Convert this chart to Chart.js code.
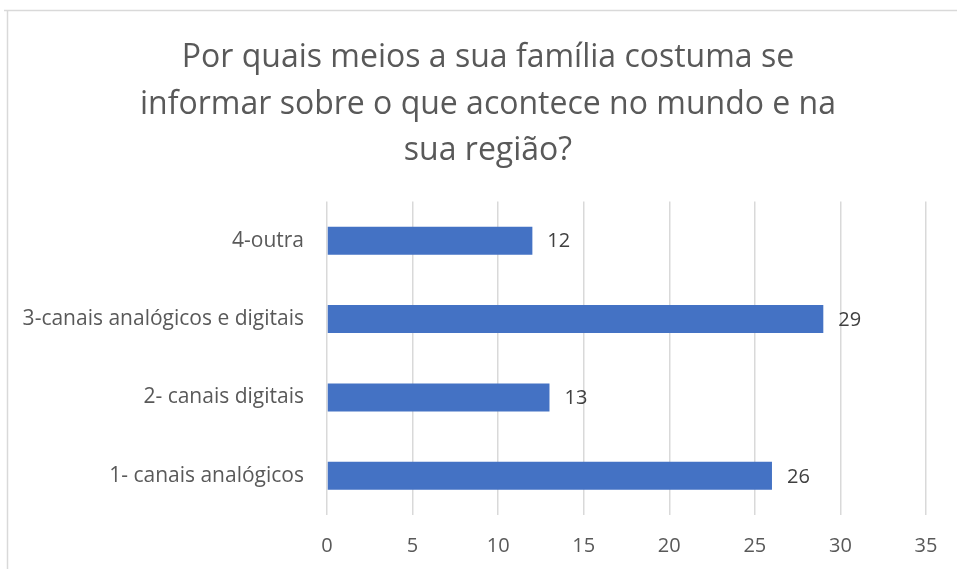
<!DOCTYPE html>
<html>
<head>
<meta charset="utf-8">
<script src="https://cdn.jsdelivr.net/npm/chart.js@4"></script>
<style>
  body { margin: 0; background: #fff; }
  #wrap { position: relative; width: 957px; height: 569px; }
</style>
</head>
<body>
<div id="wrap"><canvas id="chart" width="957" height="569"></canvas></div>
<script>
const titleLines = [
    "Por quais meios a sua família costuma se",
    "informar sobre o que acontece no mundo e na",
    "sua região?"
];
const categories = [
    "1- canais analógicos",
    "2- canais digitais",
    "3-canais analógicos e digitais",
    "4-outra"
];
const values = [26, 13, 29, 12];
const axisMin = 0;
const axisMax = 35;
const axisStep = 5;

const FONT = "'Open Sans', sans-serif";
const TEXT = "#595959";

// frame around the chart (top and left edges visible)
const framePlugin = {
    id: "frame",
    beforeDraw(chart) {
        const ctx = chart.ctx;
        ctx.save();
        ctx.fillStyle = "#fff";
        ctx.fillRect(0, 0, chart.width, chart.height);
        ctx.strokeStyle = "#d9d9d9";
        ctx.lineWidth = 1.5;
        ctx.beginPath();
        ctx.moveTo(4, 10.5);
        ctx.lineTo(chart.width, 10.5);
        ctx.moveTo(7.5, 10);
        ctx.lineTo(7.5, chart.height);
        ctx.stroke();
        ctx.restore();
    }
};

// center the title on the whole frame, not just the padded area
const titleShift = {
    id: "titleShift",
    afterLayout(chart) {
        if (chart.titleBlock) {
            chart.titleBlock.left = 19;
            chart.titleBlock.right = chart.width;
        }
    }
};

// value labels to the right of each bar
const valueLabels = {
    id: "valueLabels",
    afterDatasetsDraw(chart) {
        const ctx = chart.ctx;
        const meta = chart.getDatasetMeta(0);
        ctx.save();
        ctx.font = "20px " + FONT;
        ctx.fillStyle = "#404040";
        ctx.textAlign = "left";
        ctx.textBaseline = "middle";
        meta.data.forEach((bar, i) => {
            ctx.fillText(values[i], bar.x + 15, bar.y + 1);
        });
        ctx.restore();
    }
};

new Chart(document.getElementById("chart"), {
    type: "bar",
    data: {
        labels: categories,
        datasets: [{
            data: values,
            backgroundColor: "#4472C4",
            borderWidth: 0,
            categoryPercentage: 1,
            barPercentage: 0.357
        }]
    },
    plugins: [framePlugin, titleShift, valueLabels],
    options: {
        indexAxis: "y",
        responsive: false,
        animation: false,
        layout: { padding: { left: 12, right: 31, top: 0, bottom: 0 } },
        plugins: {
            legend: { display: false },
            tooltip: { enabled: false },
            title: {
                display: true,
                text: titleLines,
                color: TEXT,
                font: { family: FONT, size: 32, weight: "normal", lineHeight: 1.453 },
                padding: { top: 35, bottom: 27 }
            }
        },
        scales: {
            x: {
                min: axisMin,
                max: axisMax,
                border: { display: false },
                grid: { color: "#d9d9d9", lineWidth: 1.5, drawTicks: false },
                ticks: {
                    stepSize: axisStep,
                    color: TEXT,
                    padding: 19,
                    font: { family: FONT, size: 20 }
                },
                afterFit(scale) { scale.height = 54; }
            },
            y: {
                reverse: true,
                border: { display: false },
                grid: { display: false, drawTicks: false },
                ticks: {
                    color: TEXT,
                    padding: 23,
                    font: { family: FONT, size: 21 }
                },
                afterFit(scale) { scale.width = 315; }
            }
        }
    }
});
</script>
</body>
</html>
